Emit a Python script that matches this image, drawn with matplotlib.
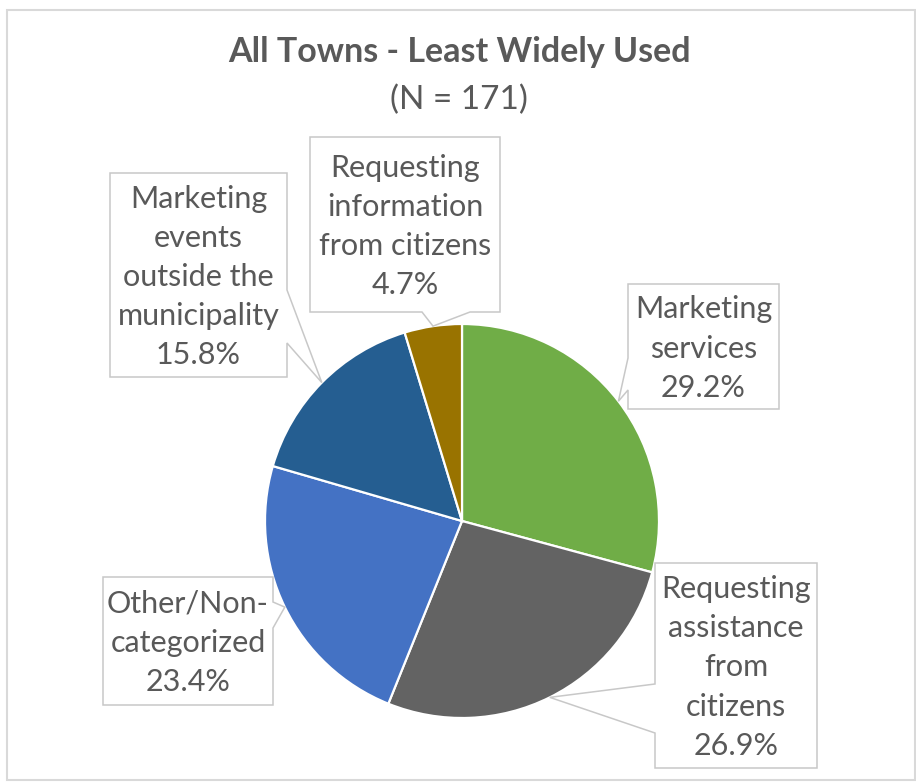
"""Pie chart of the least widely used applications, with wedge callouts."""
import numpy as np
import matplotlib.pyplot as plt
from matplotlib.patches import Polygon, Rectangle

W, H = 916, 782

categories = [
    "Marketing\nservices",
    "Requesting\nassistance\nfrom\ncitizens",
    "Other/Non-\ncategorized",
    "Marketing\nevents\noutside the\nmunicipality",
    "Requesting\ninformation\nfrom citizens",
]
shares = [29.2, 26.9, 23.4, 15.8, 4.7]
colors = ["#70AD47", "#636363", "#4472C4", "#255E91", "#997300"]

title = "All Towns - Least Widely Used"
subtitle = "(N = 171)"

# callout boxes in pixels from top-left: left, top, right, bottom, side, base span
boxes = [
    (628, 284, 779, 409, "left", (358, 390)),
    (655, 563, 817, 768, "left", (684, 733)),
    (103, 577, 273, 705, "right", (602, 628)),
    (110, 173, 287, 377, "right", (290, 343)),
    (310, 137, 500, 312, "bottom", (422, 470)),
]

TEXT = "#595959"
EDGE = "#C8C8C8"
FONT = "Lato"

center = (462, H - 521)
radius = 197


def callout_outline(box, tip):
    """Box corners, clockwise on screen, with the pointer spliced into one side."""
    left, top, right, bottom, side, (a, b) = box
    tl, tr, br, bl = (left, top), (right, top), (right, bottom), (left, bottom)
    if side == "left":
        pts = [tl, tr, br, bl, (left, b), tip, (left, a)]
    elif side == "right":
        pts = [tl, tr, (right, a), tip, (right, b), br, bl]
    else:
        pts = [tl, tr, br, (b, bottom), tip, (a, bottom), bl]
    return [(x, H - y) for x, y in pts]


fig = plt.figure(figsize=(W / 100, H / 100), dpi=100)
ax = fig.add_axes([0, 0, 1, 1])

ax.add_patch(Rectangle((7, H - 780), 908, 770, facecolor="white",
                       edgecolor="#D9D9D9", linewidth=1.5, zorder=0))

wedges, _ = ax.pie(shares, colors=colors, startangle=90, counterclock=False,
                   center=center, radius=radius, frame=True,
                   wedgeprops=dict(edgecolor="white", linewidth=1.6))
ax.set_xlim(0, W)
ax.set_ylim(0, H)
ax.set_aspect("equal")
ax.axis("off")

for wedge, label, share, box in zip(wedges, categories, shares, boxes):
    mid = np.deg2rad((wedge.theta1 + wedge.theta2) / 2)
    tip = (center[0] + radius * np.cos(mid), H - (center[1] + radius * np.sin(mid)))
    ax.add_patch(Polygon(callout_outline(box, tip), closed=True,
                         facecolor="white", edgecolor=EDGE, linewidth=1.1,
                         zorder=3))
    left, top, right, bottom = box[:4]
    ax.text((left + right) / 2, H - (top + bottom) / 2 - 2, f"{label}\n{share:.1f}%",
            ha="center", va="center", ma="center", color=TEXT,
            fontsize=22, family=FONT, linespacing=1.48, zorder=4)

ax.text(W / 2 + 2, H - 52, title, ha="center", va="center", color=TEXT,
        fontsize=24.5, fontweight="bold", family=FONT)
ax.text(W / 2 + 1, H - 100, subtitle, ha="center", va="center", color=TEXT,
        fontsize=24, family=FONT)

fig.savefig("out.png", dpi=100)
